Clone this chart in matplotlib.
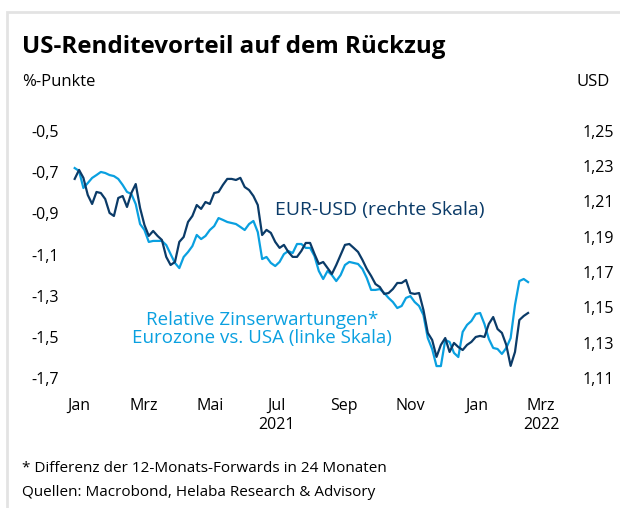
import matplotlib
matplotlib.use("Agg")
import matplotlib.pyplot as plt
import pandas as pd
from matplotlib.patches import Rectangle

plt.rcParams['font.family'] = ['Open Sans', 'DejaVu Sans']

# 4-day samples
dates = pd.date_range("2020-12-28", periods=105, freq="4D")

# Relative Zinserwartungen Eurozone vs. USA (%-Punkte, linke Skala)
zins = [-0.680, -0.694, -0.777, -0.753, -0.728, -0.714, -0.699, -0.704, -0.714, -0.719,
        -0.733, -0.762, -0.796, -0.806, -0.855, -0.952, -0.981, -1.039, -1.034, -1.034,
        -1.034, -1.054, -1.098, -1.141, -1.166, -1.112, -1.088, -1.059, -1.005, -1.025,
        -1.010, -0.981, -0.962, -0.923, -0.932, -0.942, -0.947, -0.952, -0.966, -0.981,
        -0.952, -0.937, -0.991, -1.122, -1.112, -1.141, -1.156, -1.136, -1.098, -1.083,
        -1.093, -1.049, -1.049, -1.068, -1.068, -1.107, -1.180, -1.219, -1.180, -1.200,
        -1.229, -1.200, -1.151, -1.136, -1.141, -1.146, -1.170, -1.214, -1.272, -1.272,
        -1.268, -1.287, -1.311, -1.331, -1.360, -1.350, -1.311, -1.302, -1.331, -1.350,
        -1.394, -1.506, -1.559, -1.642, -1.642, -1.515, -1.525, -1.578, -1.598, -1.476,
        -1.442, -1.423, -1.389, -1.384, -1.438, -1.510, -1.554, -1.559, -1.583, -1.554,
        -1.506, -1.345, -1.229, -1.219, -1.234]

# EUR-USD (rechte Skala)
eurusd = [1.2228, 1.2279, 1.2234, 1.2137, 1.2086, 1.2154, 1.2148, 1.2114, 1.2035, 1.2018,
          1.2120, 1.2131, 1.2069, 1.2148, 1.2199, 1.2063, 1.1967, 1.1905, 1.1933, 1.1905,
          1.1882, 1.1786, 1.1740, 1.1757, 1.1871, 1.1899, 1.1984, 1.2018, 1.2080, 1.2058,
          1.2097, 1.2086, 1.2148, 1.2154, 1.2194, 1.2228, 1.2228, 1.2222, 1.2234, 1.2182,
          1.2165, 1.2131, 1.2080, 1.1910, 1.1939, 1.1922, 1.1871, 1.1837, 1.1854, 1.1814,
          1.1786, 1.1786, 1.1820, 1.1865, 1.1865, 1.1803, 1.1746, 1.1757, 1.1723, 1.1689,
          1.1740, 1.1797, 1.1854, 1.1859, 1.1837, 1.1814, 1.1769, 1.1718, 1.1678, 1.1632,
          1.1615, 1.1576, 1.1581, 1.1604, 1.1638, 1.1638, 1.1655, 1.1581, 1.1576, 1.1581,
          1.1485, 1.1355, 1.1315, 1.1219, 1.1287, 1.1326, 1.1247, 1.1298, 1.1275, 1.1258,
          1.1287, 1.1304, 1.1332, 1.1338, 1.1332, 1.1406, 1.1445, 1.1377, 1.1355, 1.1287,
          1.1168, 1.1247, 1.1428, 1.1451, 1.1468]

tick_dates = pd.to_datetime(["2021-01-01", "2021-03-01", "2021-05-01", "2021-07-01",
                             "2021-09-01", "2021-11-01", "2022-01-01", "2022-03-01"])
tick_labels = ["Jan", "Mrz", "Mai", "Jul\n2021", "Sep", "Nov", "Jan", "Mrz\n2022"]
left_ticks = [-0.5, -0.7, -0.9, -1.1, -1.3, -1.5, -1.7]
right_ticks = [1.25, 1.23, 1.21, 1.19, 1.17, 1.15, 1.13, 1.11]

dark = "#0b3b68"
light = "#0aa0e0"

fig = plt.figure(figsize=(6.2, 5.08), dpi=100)
ax = fig.add_axes([70 / 620, 1 - 395 / 508, 490 / 620, 275 / 508])
ax2 = ax.twinx()

ax.plot(dates, zins, color=light, lw=1.6, zorder=2)
ax2.plot(dates, eurusd, color=dark, lw=1.6, zorder=3)

t0 = pd.Timestamp("2021-01-01")
ax.set_xlim(t0 - pd.Timedelta(days=8.3), t0 + pd.Timedelta(days=441.3))
ax.set_ylim(-1.7825, -0.4466)
ax2.set_ylim(1.1003, 1.2562)

ax.set_yticks(left_ticks)
ax.set_yticklabels([f"{v:.1f}".replace(".", ",") for v in left_ticks])
ax2.set_yticks(right_ticks)
ax2.set_yticklabels([f"{v:.2f}".replace(".", ",") for v in right_ticks])
ax.set_xticks(tick_dates)
ax.set_xticklabels(tick_labels, linespacing=1.3)

for a in (ax, ax2):
    for s in a.spines.values():
        s.set_visible(False)
ax.tick_params(axis="y", length=0, pad=8, labelsize=11.5)
ax2.tick_params(axis="y", length=0, pad=16, labelsize=11.5)
ax.tick_params(axis="x", length=0, pad=2, labelsize=11.5)

ax.text(pd.Timestamp("2021-06-30"), -0.884, "EUR-USD (rechte Skala)",
        color=dark, fontsize=14, va="center", ha="left")
ax.text(pd.Timestamp("2021-06-18"), -1.462,
        "Relative Zinserwartungen*\nEurozone vs. USA (linke Skala)",
        color=light, fontsize=13.5, va="center", ha="center", linespacing=1.05)

fig.text(22 / 620, 1 - 47 / 508, "US-Renditevorteil auf dem Rückzug",
         fontsize=17.4, fontweight="bold", va="center", ha="left")
fig.text(22 / 620, 1 - 82 / 508, "%-Punkte", fontsize=12, va="center", ha="left")
fig.text(610 / 620, 1 - 82 / 508, "USD", fontsize=12, va="center", ha="right")
fig.text(22 / 620, 1 - 468 / 508, "* Differenz der 12-Monats-Forwards in 24 Monaten",
         fontsize=11, va="center", ha="left")
fig.text(22 / 620, 1 - 493 / 508, "Quellen: Macrobond, Helaba Research & Advisory",
         fontsize=11, va="center", ha="left")

# light card frame at top and left
fig.add_artist(Rectangle((7 / 620, -0.05), 1.1, 1 - 12 / 508 + 0.05,
                         transform=fig.transFigure, fill=False,
                         edgecolor="#e3e3e3", lw=2))

fig.savefig("out.png", dpi=100)
